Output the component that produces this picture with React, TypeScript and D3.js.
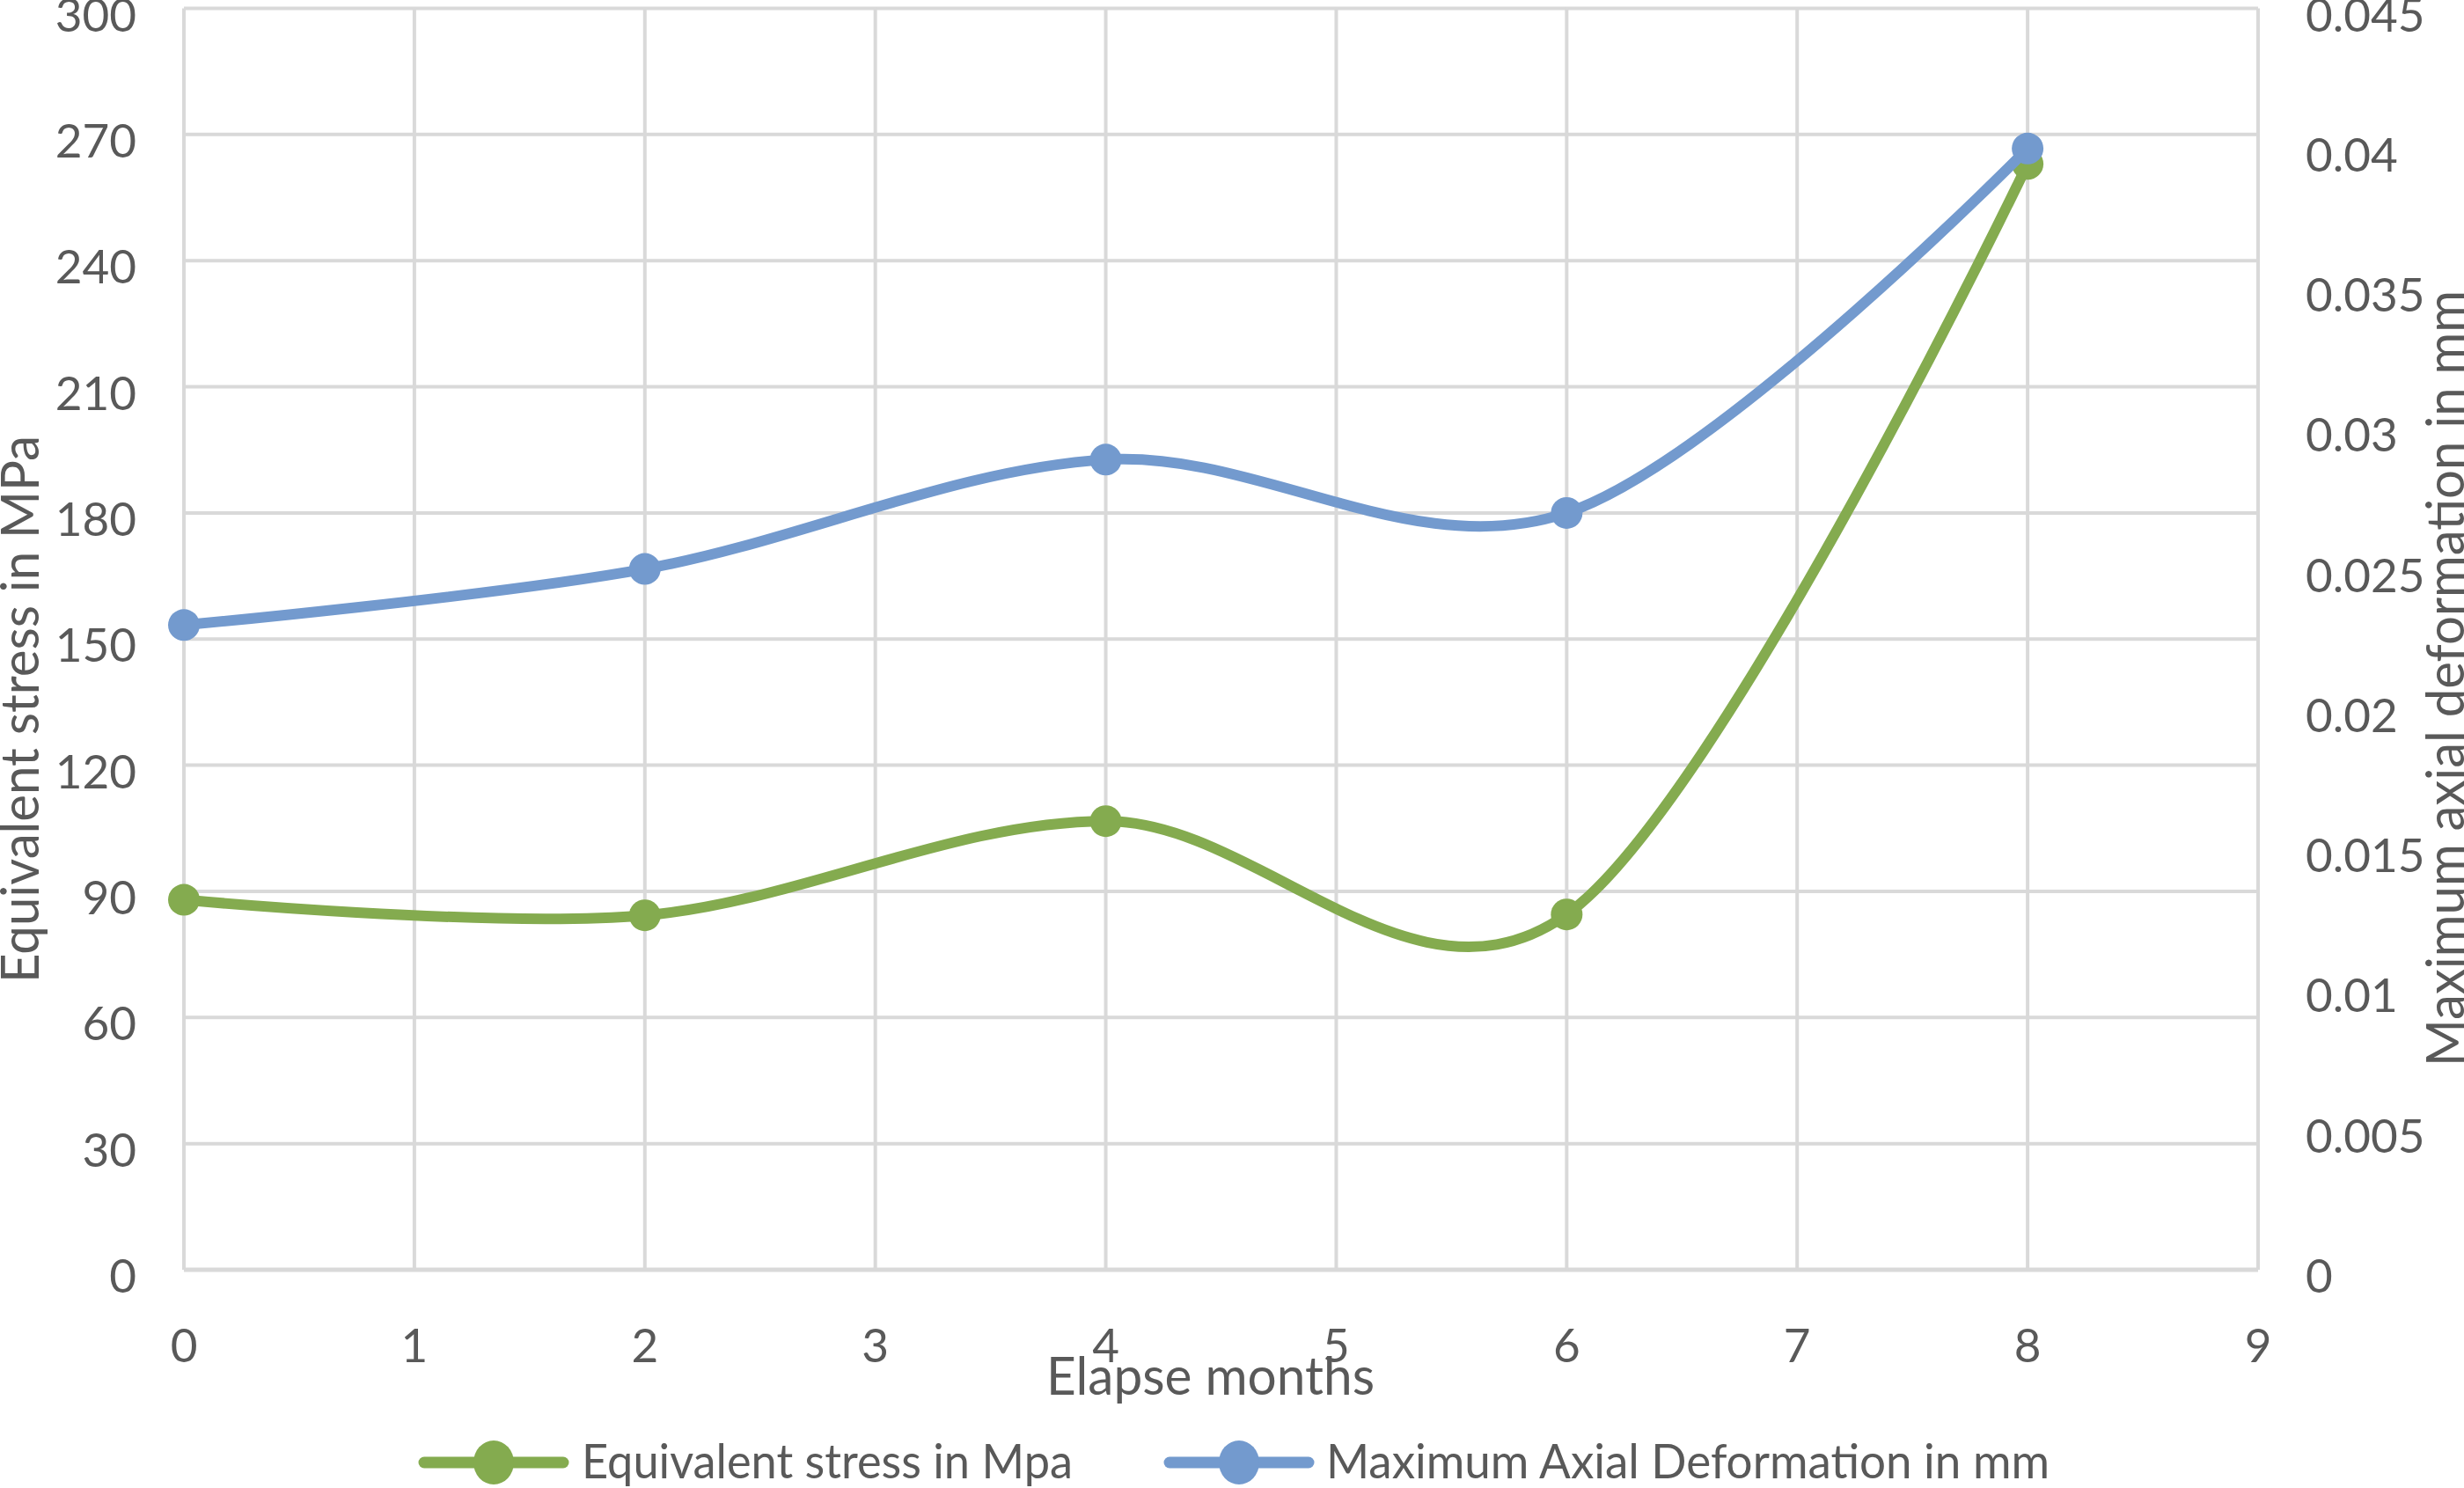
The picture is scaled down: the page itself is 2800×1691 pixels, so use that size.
import * as d3 from "d3"

// Elapsed months at which the two quantities were measured
const months = [0, 2, 4, 6, 8]
const stressMpa = [88, 84.3, 106.7, 84.5, 263]
const deformationMm = [0.023, 0.025, 0.0289, 0.027, 0.04]

const xTicks = [0, 1, 2, 3, 4, 5, 6, 7, 8, 9]
const leftTicks = [0, 30, 60, 90, 120, 150, 180, 210, 240, 270, 300]
const rightTicks = [0, 0.005, 0.01, 0.015, 0.02, 0.025, 0.03, 0.035, 0.04, 0.045]

const seriesNames = ["Equivalent stress in Mpa", "Maximum Axial Deformation in mm"]
const seriesColors = ["#84AB4F", "#739ACE"]

const W = 2800
const H = 1691
const FONT = "Lato, 'Open Sans', sans-serif"
const TEXT = "#595959"
const GRID = "#D9D9D9"

export default function App() {
  const x = d3.scaleLinear().domain([0, 9]).range([209, 2566])
  const yLeft = d3.scaleLinear().domain([0, 300]).range([1443, 9.5])
  const yRight = d3.scaleLinear().domain([0, 0.045]).range([1443, 9.5])

  // Excel-style smoothed line
  const curve = d3.curveCardinal.tension(0)
  const stressLine = d3
    .line<number>()
    .x((_, i) => x(months[i]))
    .y((d) => yLeft(d))
    .curve(curve)
  const deformLine = d3
    .line<number>()
    .x((_, i) => x(months[i]))
    .y((d) => yRight(d))
    .curve(curve)

  const series = [
    { name: seriesNames[0], color: seriesColors[0], d: stressLine(stressMpa), pts: stressMpa.map((v, i) => [x(months[i]), yLeft(v)]) },
    { name: seriesNames[1], color: seriesColors[1], d: deformLine(deformationMm), pts: deformationMm.map((v, i) => [x(months[i]), yRight(v)]) },
  ]

  // legend entries: line start, marker centre, line end, text start, text width
  const legend = [
    { x0: 482, cx: 561, x1: 640, tx: 661, tw: 558 },
    { x0: 1329, cx: 1408, x1: 1487, tx: 1507, tw: 822 },
  ]

  return (
    <svg width={W} height={H} style={{ position: "absolute", left: 0, top: 0, background: "#fff" }} fontFamily={FONT}>
      <rect width={W} height={H} fill="#fff" />

      {/* grid */}
      {leftTicks.map((t) => (
        <line key={"h" + t} x1={x(0)} x2={x(9)} y1={yLeft(t)} y2={yLeft(t)} stroke={GRID} strokeWidth={t === 0 ? 5 : 4} />
      ))}
      {xTicks.map((t) => (
        <line key={"v" + t} x1={x(t)} x2={x(t)} y1={yLeft(0)} y2={yLeft(300)} stroke={GRID} strokeWidth={4} />
      ))}

      {/* left ticks */}
      {leftTicks.map((t) => (
        <text key={"l" + t} x={155} y={yLeft(t) + 26} textAnchor="end" fontSize={53} fill={TEXT}>
          {t}
        </text>
      ))}
      {/* right ticks */}
      {rightTicks.map((t) => (
        <text key={"r" + t} x={2620} y={yRight(t) + 26} textAnchor="start" fontSize={53} fill={TEXT}>
          {String(t)}
        </text>
      ))}
      {/* x ticks */}
      {xTicks.map((t) => (
        <text key={"x" + t} x={x(t)} y={1548} textAnchor="middle" fontSize={53} fill={TEXT}>
          {t}
        </text>
      ))}

      {/* axis titles */}
      <text x={1189} y={1585} fontSize={60} fill={TEXT} textLength={373} lengthAdjust="spacingAndGlyphs">
        Elapse months
      </text>
      <text transform="translate(44,1117) rotate(-90)" fontSize={60} fill={TEXT} textLength={622} lengthAdjust="spacingAndGlyphs">
        Equivalent stress in MPa
      </text>
      <text transform="translate(2800,1212) rotate(-90)" fontSize={60} fill={TEXT} textLength={882} lengthAdjust="spacingAndGlyphs">
        Maximum axial deformation in mm
      </text>

      {/* series */}
      {series.map((s) => (
        <g key={s.name}>
          <path d={s.d ?? ""} fill="none" stroke={s.color} strokeWidth={12} strokeLinecap="round" />
          {s.pts.map(([px, py], i) => (
            <circle key={i} cx={px} cy={py} r={18} fill={s.color} />
          ))}
        </g>
      ))}

      {/* legend */}
      {series.map((s, i) => (
        <g key={"lg" + i}>
          <line x1={legend[i].x0} x2={legend[i].x1} y1={1662} y2={1662} stroke={s.color} strokeWidth={13} strokeLinecap="round" />
          <ellipse cx={legend[i].cx} cy={1662} rx={23} ry={25} fill={s.color} />
          <text x={legend[i].tx} y={1680} fontSize={55} fill={TEXT} textLength={legend[i].tw} lengthAdjust="spacingAndGlyphs">
            {s.name}
          </text>
        </g>
      ))}
    </svg>
  )
}
